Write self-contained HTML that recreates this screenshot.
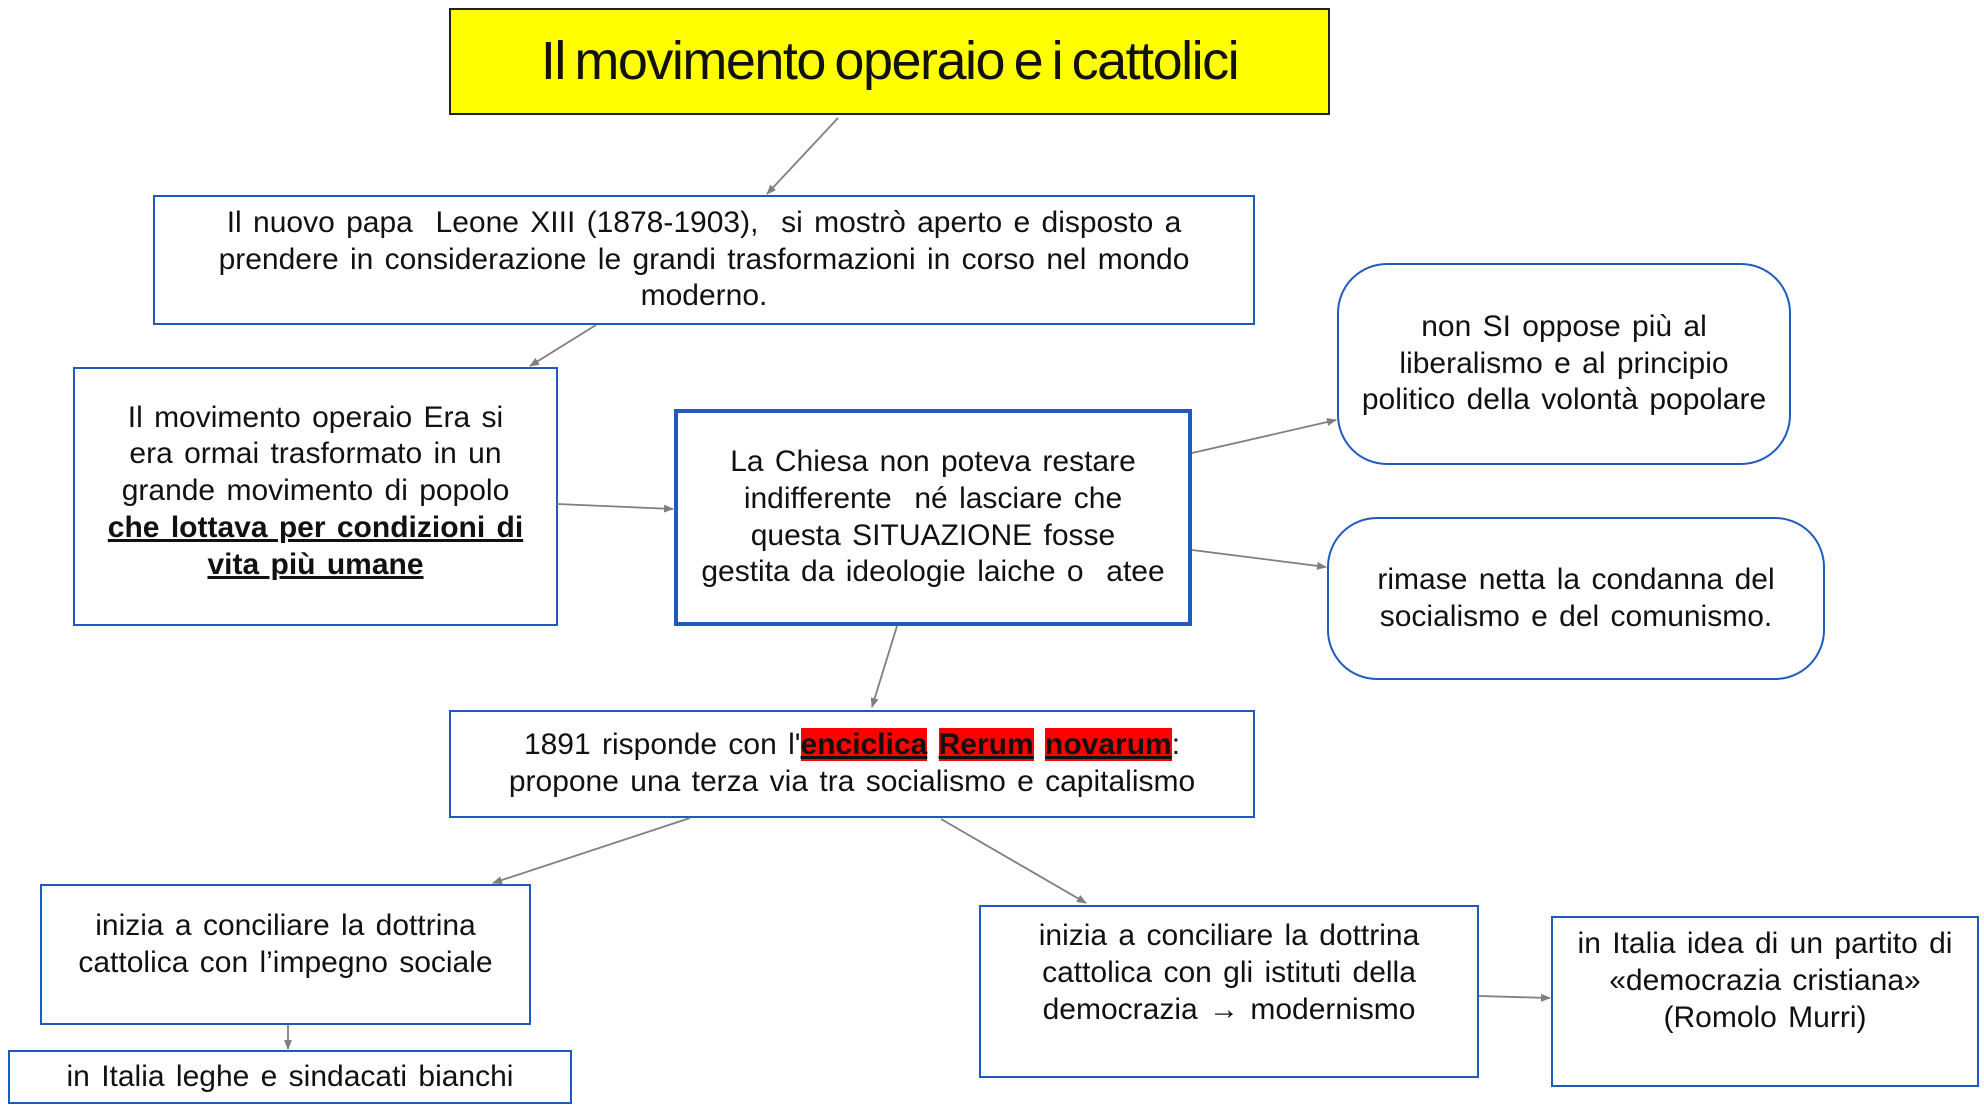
<!DOCTYPE html>
<html><head><meta charset="utf-8"><style>
body{margin:0;width:1984px;height:1113px;background:#fff;position:relative;overflow:hidden;font-family:"Liberation Sans",Arial,sans-serif;}
.b{position:absolute;box-sizing:border-box;border:2.5px solid #1f5bbd;display:flex;align-items:center;justify-content:center;text-align:center;font-size:30px;line-height:36.7px;color:#111;word-spacing:3px;white-space:nowrap}
.b>div{display:block}
.r{border-radius:50px}
u{text-decoration:underline;font-weight:bold}
.hl{background:#f00;font-weight:bold;text-decoration:underline}
svg{position:absolute;left:0;top:0}
</style></head><body>
<div class="b" style="left:449px;top:8px;width:881px;height:107px;background:#ffff00;border:2px solid #222;font-size:54px;letter-spacing:-1.5px;word-spacing:-4px"><div>Il movimento operaio e i cattolici</div></div>
<div class="b" style="left:153px;top:195px;width:1102px;height:130px"><div>Il nuovo papa&nbsp; Leone XIII (1878-1903),&nbsp; si mostrò aperto e disposto a<br>prendere in considerazione le grandi trasformazioni in corso nel mondo<br>moderno.</div></div>
<div class="b" style="left:73px;top:367px;width:485px;height:259px;padding-bottom:10px"><div>Il movimento operaio Era si<br>era ormai trasformato in un<br>grande movimento di popolo<br><u>che lottava per condizioni di </u><br><u>vita più umane</u></div></div>
<div class="b" style="left:674px;top:409px;width:518px;height:217px;border-width:4px"><div>La Chiesa non poteva restare<br>indifferente&nbsp; né lasciare che<br>questa SITUAZIONE fosse<br>gestita da ideologie laiche o&nbsp; atee</div></div>
<div class="b r" style="left:1337px;top:263px;width:454px;height:202px"><div>non SI oppose più al<br>liberalismo e al principio<br>politico della volontà popolare</div></div>
<div class="b r" style="left:1327px;top:517px;width:498px;height:163px"><div>rimase netta la condanna del<br>socialismo e del comunismo.</div></div>
<div class="b" style="left:449px;top:710px;width:806px;height:108px"><div>1891 risponde con l'<span class="hl">enciclica</span> <span class="hl">Rerum</span> <span class="hl">novarum</span>:<br>propone una terza via tra socialismo e capitalismo</div></div>
<div class="b" style="left:40px;top:884px;width:491px;height:141px;padding-bottom:20px"><div>inizia a conciliare la dottrina<br>cattolica con l’impegno sociale</div></div>
<div class="b" style="left:8px;top:1050px;width:564px;height:54px"><div>in Italia leghe e sindacati bianchi</div></div>
<div class="b" style="left:979px;top:905px;width:500px;height:173px;padding-bottom:36px"><div>inizia a conciliare la dottrina<br>cattolica con gli istituti della<br>democrazia → modernismo</div></div>
<div class="b" style="left:1551px;top:916px;width:428px;height:171px;padding-bottom:40px"><div>in Italia idea di un partito di<br>«democrazia cristiana»<br>(Romolo Murri)</div></div>
<svg width="1984" height="1113">
<defs><marker id="a" markerWidth="10" markerHeight="8" refX="9" refY="4" orient="auto" markerUnits="userSpaceOnUse"><path d="M0,0 L10,4 L0,8 z" fill="#7f7f7f"/></marker></defs>
<g stroke="#7f7f7f" stroke-width="1.8" marker-end="url(#a)">
<line x1="838" y1="118" x2="767" y2="194"/>
<line x1="596" y1="325" x2="530" y2="366"/>
<line x1="557" y1="504" x2="673" y2="509"/>
<line x1="1192" y1="453" x2="1336" y2="420"/>
<line x1="1192" y1="550" x2="1326" y2="567"/>
<line x1="897" y1="626" x2="872" y2="707"/>
<line x1="690" y1="818" x2="493" y2="883"/>
<line x1="941" y1="819" x2="1086" y2="903"/>
<line x1="288" y1="1025" x2="288" y2="1049"/>
<line x1="1479" y1="996" x2="1550" y2="998"/>
</g></svg>
</body></html>
